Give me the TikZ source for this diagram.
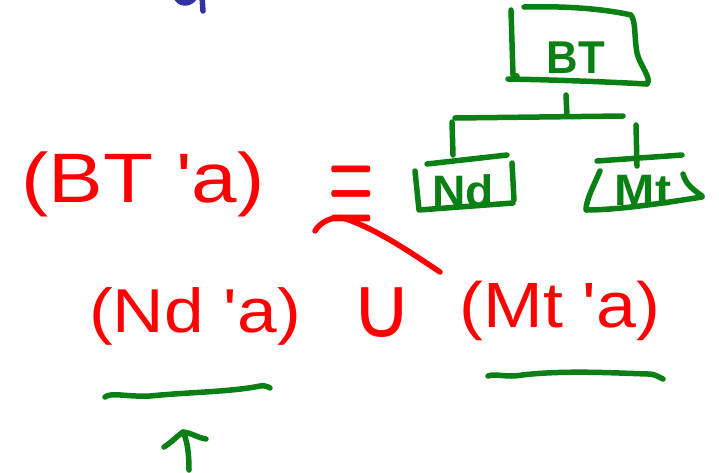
\documentclass[tikz,border=0pt]{standalone}
\usepackage{fontspec}
\newfontfamily\hand{Liberation Sans}
\newfontfamily\symf{DejaVu Sans}
\definecolor{inkred}{RGB}{255,0,0}
\definecolor{inkgreen}{RGB}{10,128,20}
\definecolor{inkblue}{RGB}{50,50,165}
\tikzset{
  pen/.style={line width=5.5pt, line cap=round, line join=round},
  gpen/.style={pen, draw=inkgreen},
  rpen/.style={pen, draw=inkred},
  gtext/.style={inner sep=0pt, text=inkgreen, font=\hand\bfseries},
  rtext/.style={inner sep=0pt, text=inkred, font=\hand},
}
\begin{document}
\begin{tikzpicture}[x=1pt,y=-1pt]
\useasboundingbox[fill=white] (0,0) rectangle (719,472);

% blue stroke at the top
\draw[pen, draw=inkblue] (176,-3) .. controls (180,5) and (190,5) .. (195,-3);
\draw[pen, draw=inkblue] (202,-3) -- (203,11);

% ---------- green tree ----------
\node[gtext] (btbox) at (576,58)
  {\fontsize{46}{46}\selectfont\scalebox{0.95}[1]{BT}};
\draw[gpen] (511,10) -- (513,75) -- (517,76);
\draw[gpen] (524,7) .. controls (560,6) and (600,8) .. (631,15)
  .. controls (636,22) and (634,36) .. (637,53)
  .. controls (640,66) and (652,78) .. (647,84);
\draw[gpen] (508,79) .. controls (560,80) and (610,82) .. (647,84);

\coordinate (stemtop) at (566,95);
\coordinate (junc) at (567,116);
\coordinate (jl) at (455,118);
\coordinate (jr) at (623,116);
\draw[gpen] (stemtop) -- (junc);
\draw[gpen] (jl) -- (jr);

\node[gtext] (nd) at (463,191) {\fontsize{44}{44}\selectfont\scalebox{1.05}[1]{Nd}};
\node[gtext] (mt) at (643,191) {\fontsize{44}{44}\selectfont\scalebox{1.1}[1]{Mt}};

\draw[gpen] (452,122) -- (453,155);
\draw[gpen] (636,125) -- (637,166);

% Nd box
\draw[gpen] (427,164) -- (507,155);
\draw[gpen] (415,171) -- (419,210) -- (513,203);
\draw[gpen] (512,163) -- (514,200);
% Mt box
\draw[gpen] (597,161) -- (682,155);
\draw[gpen] (600,171) .. controls (594,185) and (586,200) .. (586,210)
  .. controls (620,210) and (670,202) .. (702,197);
\draw[gpen] (683,174) .. controls (686,185) and (694,190) .. (702,196);

% ---------- red expressions ----------
\node[rtext] (bta) at (143,184) {\fontsize{70}{70}\selectfont\scalebox{1.17}[1]{(BT \char"0027a)}};
\node[inner sep=0pt, text=inkred] (eq) at (351,194)
  {\scalebox{5.1}[11]{\boldmath$\equiv$}};

\node[rtext] (nda) at (195,316) {\fontsize{62}{62}\selectfont\scalebox{1.15}[1]{(Nd \char"0027a)}};
\node[inner sep=0pt, text=inkred, font=\symf] (cup) at (382,313)
  {\fontsize{86}{86}\selectfont ∪};
\node[rtext] (mta) at (560,311) {\fontsize{64}{64}\selectfont\scalebox{1.12}[1]{(Mt \char"0027a)}};

% red curved stroke from (Mt 'a) to the ≡
\coordinate (arrs) at (440,272);
\coordinate (hook) at (315,231);
\draw[rpen] (arrs) .. controls (410,252) and (375,228) .. (343,218)
  .. controls (333,216) and (320,222) .. (hook);

% ---------- green underlines and arrow ----------
\draw[gpen] (105,397) .. controls (112,392) and (125,397) .. (150,396)
  .. controls (190,392) and (230,392) .. (260,386) .. controls (266,385) and (270,388) .. (270,388);
\draw[gpen] (488,376) .. controls (496,373) and (506,378) .. (522,375)
  .. controls (565,370) and (615,373) .. (648,374) .. controls (656,374) and (660,378) .. (663,379);

\coordinate (arrtip) at (183,432);
\coordinate (arrfoot) at (189,470);
\draw[gpen] (arrfoot) .. controls (189,452) and (187,440) .. (arrtip);
\draw[gpen] (164,447) .. controls (172,442) and (177,436) .. (arrtip) .. controls (192,433) and (198,438) .. (206,439);
\end{tikzpicture}
\end{document}
